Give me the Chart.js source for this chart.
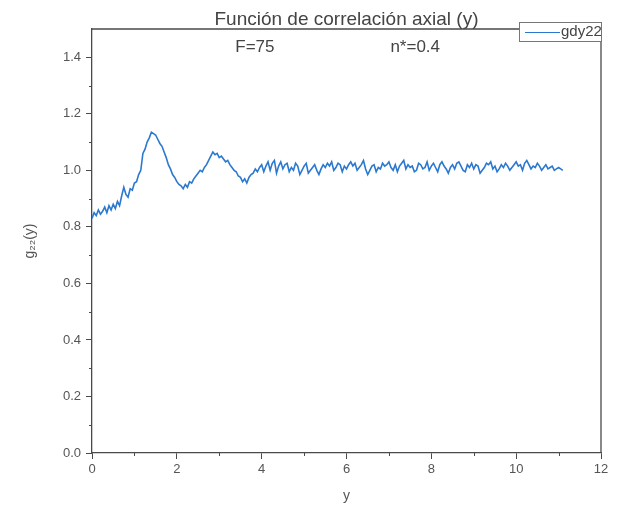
<!DOCTYPE html>
<html>
<head>
<meta charset="utf-8">
<script src="https://cdn.jsdelivr.net/npm/chart.js@4.4.1/dist/chart.umd.min.js"></script>
<style>
  html, body { margin: 0; padding: 0; background: #fff; }
  #wrap { width: 639px; height: 516px; }
</style>
</head>
<body>
<div id="wrap"><canvas id="g22Chart" width="639" height="516"></canvas></div>
<script>
// values, one every 0.05 in y, starting at y = 0
var yStart = 0;
var yStep = 0.05;
var gdy22 = [
  0.83, 0.85, 0.84, 0.86, 0.845, 0.855, 0.87, 0.85, 0.875, 0.86,
  0.88, 0.865, 0.89, 0.875, 0.91, 0.94, 0.915, 0.905, 0.935, 0.93,
  0.955, 0.96, 0.985, 1.0, 1.06, 1.075, 1.1, 1.115, 1.135, 1.13,
  1.125, 1.11, 1.095, 1.085, 1.065, 1.045, 1.02, 1.005, 0.985, 0.975,
  0.96, 0.95, 0.945, 0.935, 0.95, 0.94, 0.96, 0.955, 0.97, 0.98,
  0.99, 1.0, 0.995, 1.01, 1.02, 1.035, 1.05, 1.065, 1.055, 1.06,
  1.045, 1.05, 1.04, 1.03, 1.035, 1.02, 1.01, 1.0, 0.995, 0.98,
  0.975, 0.96, 0.97, 0.955, 0.975, 0.985, 0.99, 1.005, 0.995, 1.01,
  1.02, 0.995, 1.015, 1.03, 1.0, 1.025, 1.035, 0.99, 1.015, 1.03,
  1.005, 1.02, 1.025, 0.995, 1.01, 1.0, 1.025, 1.015, 0.985, 1.0,
  1.015, 1.025, 0.99, 1.0, 1.01, 1.02, 1.0, 0.985, 1.005, 1.02,
  1.01, 1.025, 1.015, 1.03, 1.0, 1.01, 1.025, 1.02, 0.995, 1.015,
  1.005, 1.02, 1.03, 1.015, 1.025, 1.0, 1.01, 1.02, 1.035, 1.005,
  0.985, 1.0, 1.015, 1.02, 0.995, 1.01, 1.005, 1.025, 1.015, 1.02,
  1.03, 1.01, 1.0, 1.02, 0.995, 1.015, 1.025, 1.035, 1.005, 1.02,
  1.01, 1.015, 0.995, 1.0, 1.025, 1.02, 1.005, 1.01, 1.03, 1.0,
  1.015, 1.025, 1.01, 0.995, 1.02, 1.03, 1.015, 1.005, 0.99, 1.01,
  1.02, 1.005, 1.025, 1.03, 1.015, 1.0, 0.995, 1.02, 1.01, 1.025,
  1.005, 1.02, 1.015, 0.99, 1.0, 1.01, 1.025, 1.02, 1.03, 1.005,
  1.015, 0.995, 1.005, 1.02, 1.01, 1.025, 1.015, 1.0, 1.01, 1.02,
  1.03, 1.015, 1.02, 1.0, 1.025, 1.035, 1.02, 1.005, 1.015, 1.01,
  1.025, 1.015, 1.0, 1.01, 1.02, 1.005, 1.01, 1.015, 1.0, 1.005,
  1.01, 1.005, 1.0
];

var chartTitle = 'Función de correlación axial (y)';
var subLabels = ['F=75', 'n*=0.4'];
var xTicks = [0, 2, 4, 6, 8, 10, 12];
var yTicks = [0.0, 0.2, 0.4, 0.6, 0.8, 1.0, 1.2, 1.4];

var axisColor = '#4a4a4a';
var textColor = '#555555';
var lineColor = '#2b78cf';

var points = gdy22.map(function (v, i) {
    return { x: yStart + i * yStep, y: v };
});

// frame, minor ticks, title texts and the legend box
var framePlugin = {
    id: 'frame',
    afterDraw: function (chart) {
        var ctx = chart.ctx;
        var a = chart.chartArea;
        var xs = chart.scales.x;
        var ys = chart.scales.y;
        ctx.save();

        // minor ticks
        ctx.strokeStyle = axisColor;
        ctx.lineWidth = 1;
        ctx.beginPath();
        for (var i = 1; i < 12; i += 2) {
            var px = Math.round(xs.getPixelForValue(i)) + 0.5;
            ctx.moveTo(px, a.bottom);
            ctx.lineTo(px, a.bottom + 3);
        }
        for (var j = 1; j < 15; j += 2) {
            var py = Math.round(ys.getPixelForValue(j / 10)) + 0.5;
            ctx.moveTo(a.left, py);
            ctx.lineTo(a.left - 3, py);
        }
        ctx.stroke();

        // top and right frame lines
        ctx.lineWidth = 1.3;
        ctx.beginPath();
        ctx.moveTo(a.left, a.top);
        ctx.lineTo(a.right, a.top);
        ctx.lineTo(a.right, a.bottom);
        ctx.stroke();

        // title and subtitle
        ctx.fillStyle = '#444';
        ctx.textAlign = 'center';
        ctx.textBaseline = 'alphabetic';
        ctx.font = '19px "Liberation Sans", Arial, sans-serif';
        ctx.fillText(chartTitle, (a.left + a.right) / 2, a.top - 4);
        ctx.font = '17px "Liberation Sans", Arial, sans-serif';
        ctx.fillText(subLabels[0], xs.getPixelForValue(3.84), a.top + 23);
        ctx.fillText(subLabels[1], xs.getPixelForValue(7.62), a.top + 23);

        // legend box over the top right corner
        var bx = 519, by = 22, bw = 82, bh = 19;
        ctx.fillStyle = '#fff';
        ctx.fillRect(bx, by, bw, bh);
        ctx.strokeStyle = '#777';
        ctx.lineWidth = 1;
        ctx.strokeRect(bx + 0.5, by + 0.5, bw, bh);
        ctx.strokeStyle = lineColor;
        ctx.beginPath();
        ctx.moveTo(bx + 6, by + 10.5);
        ctx.lineTo(bx + 41, by + 10.5);
        ctx.stroke();
        ctx.fillStyle = '#444';
        ctx.textAlign = 'left';
        ctx.textBaseline = 'middle';
        ctx.font = '15px "Liberation Sans", Arial, sans-serif';
        ctx.fillText(chart.data.datasets[0].label, bx + 42, by + 10);
        ctx.restore();
    }
};

var ctx = document.getElementById('g22Chart').getContext('2d');
var myChart = new Chart(ctx, {
    type: 'line',
    data: {
        datasets: [{
            label: 'gdy22',
            data: points,
            borderColor: lineColor,
            borderWidth: 1.6,
            pointRadius: 0,
            fill: false,
            tension: 0
        }]
    },
    options: {
        responsive: false,
        animation: false,
        layout: { padding: { top: 29, right: 38, bottom: 0, left: 0 } },
        plugins: {
            legend: { display: false },
            title: { display: false },
            tooltip: { enabled: false }
        },
        scales: {
            x: {
                type: 'linear',
                min: 0,
                max: 12,
                afterFit: function (scale) { scale.height = 63; },
                afterBuildTicks: function (scale) {
                    scale.ticks = xTicks.map(function (v) { return { value: v }; });
                },
                border: { display: true, color: axisColor, width: 1.3 },
                grid: { display: true, drawOnChartArea: false, drawTicks: true, tickLength: 6, color: axisColor },
                ticks: {
                    color: textColor,
                    padding: 3,
                    font: { family: '"Liberation Sans", Arial, sans-serif', size: 13 },
                    callback: function (v) { return v; }
                },
                title: {
                    display: true,
                    text: 'y',
                    color: textColor,
                    font: { family: '"Liberation Sans", Arial, sans-serif', size: 14 },
                    padding: { top: 0, bottom: 11 }
                }
            },
            y: {
                type: 'linear',
                min: 0,
                max: 1.5,
                afterFit: function (scale) { scale.width = 92; },
                afterBuildTicks: function (scale) {
                    scale.ticks = yTicks.map(function (v) { return { value: v }; });
                },
                border: { display: true, color: axisColor, width: 1.3 },
                grid: { display: true, drawOnChartArea: false, drawTicks: true, tickLength: 6, color: axisColor },
                ticks: {
                    color: textColor,
                    padding: 5,
                    font: { family: '"Liberation Sans", Arial, sans-serif', size: 13 },
                    callback: function (v) { return v.toFixed(1); }
                },
                title: {
                    display: true,
                    text: 'g₂₂(y)',
                    color: textColor,
                    font: { family: '"Liberation Sans", Arial, sans-serif', size: 14 },
                    padding: { top: 22, bottom: 0 }
                }
            }
        }
    },
    plugins: [framePlugin]
});
</script>
</body>
</html>
